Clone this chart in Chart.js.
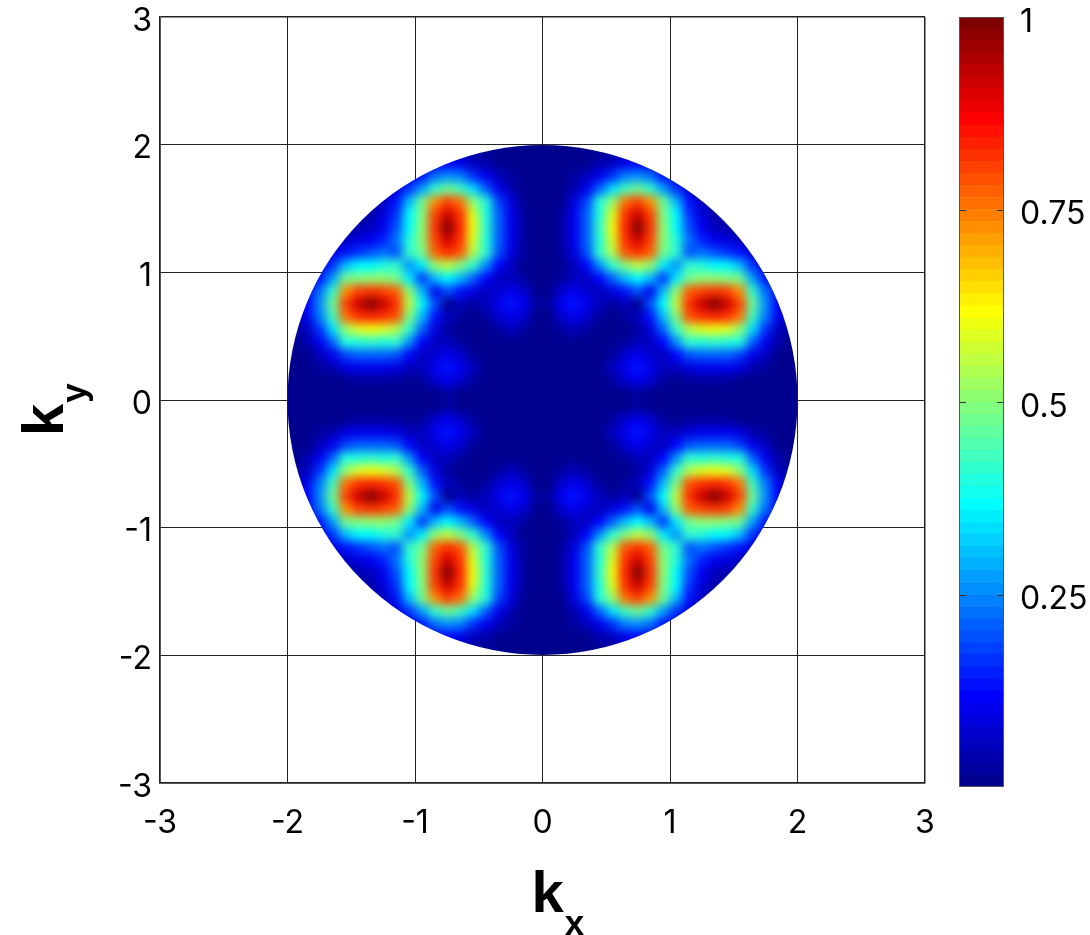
<!DOCTYPE html>
<html>
<head>
<meta charset="utf-8">
<script src="https://cdn.jsdelivr.net/npm/chart.js@4/dist/chart.umd.min.js"></script>
<style>
  html, body { margin: 0; padding: 0; background: #fff; }
  #wrap { position: relative; width: 1090px; height: 935px; }
  #wrap canvas { position: absolute; left: 0; top: 0; }
</style>
</head>
<body>
<div id="wrap">
  <canvas id="map" width="1090" height="935"></canvas>
  <canvas id="bar" width="1090" height="935"></canvas>
</div>
<script>
// intensity in the quadrant kx >= 0, ky >= 0 (the map is mirror symmetric)
// rows run from ky = 1.95 down to ky = 0.05, columns from kx = 0.05 to 1.95
const cellSize = 0.1;
const diskRadius = 2;
const quadrant = [
  [0.00,0.00,0.00,0.00,0.01,0.02,0.02,0.04,0.02,0.01,0.01,0.00,0.00,0.00,0.00,0.00,0.00,0.00,0.00,0.00],
  [0.00,0.00,0.01,0.01,0.04,0.06,0.10,0.11,0.09,0.05,0.02,0.01,0.00,0.00,0.00,0.00,0.00,0.00,0.00,0.00],
  [0.00,0.00,0.02,0.05,0.10,0.16,0.24,0.26,0.23,0.14,0.08,0.04,0.01,0.00,0.00,0.00,0.00,0.00,0.00,0.00],
  [0.00,0.00,0.04,0.10,0.21,0.34,0.43,0.48,0.42,0.28,0.16,0.08,0.04,0.01,0.00,0.00,0.00,0.00,0.00,0.00],
  [0.00,0.01,0.09,0.18,0.40,0.51,0.76,0.80,0.72,0.47,0.31,0.14,0.06,0.02,0.01,0.00,0.00,0.00,0.00,0.00],
  [0.00,0.02,0.10,0.21,0.40,0.59,0.82,0.92,0.80,0.49,0.36,0.16,0.09,0.04,0.02,0.00,0.00,0.00,0.00,0.00],
  [0.00,0.02,0.10,0.21,0.41,0.60,0.84,1.00,0.82,0.50,0.37,0.19,0.10,0.05,0.04,0.02,0.01,0.00,0.00,0.00],
  [0.00,0.02,0.10,0.21,0.40,0.59,0.82,0.92,0.80,0.51,0.40,0.22,0.15,0.10,0.09,0.06,0.04,0.01,0.00,0.00],
  [0.00,0.02,0.09,0.19,0.41,0.54,0.79,0.82,0.77,0.48,0.41,0.20,0.22,0.19,0.16,0.14,0.08,0.04,0.01,0.00],
  [0.00,0.01,0.05,0.11,0.25,0.41,0.49,0.55,0.50,0.35,0.25,0.41,0.40,0.37,0.36,0.31,0.16,0.08,0.02,0.01],
  [0.00,0.02,0.06,0.06,0.12,0.21,0.31,0.36,0.30,0.17,0.35,0.48,0.51,0.50,0.49,0.47,0.28,0.14,0.05,0.01],
  [0.01,0.07,0.10,0.07,0.05,0.09,0.14,0.19,0.10,0.30,0.50,0.77,0.80,0.82,0.80,0.72,0.42,0.23,0.09,0.02],
  [0.02,0.10,0.14,0.10,0.05,0.02,0.05,0.00,0.19,0.36,0.55,0.82,0.92,1.00,0.92,0.80,0.48,0.26,0.11,0.04],
  [0.01,0.07,0.10,0.07,0.02,0.00,0.02,0.05,0.14,0.31,0.49,0.79,0.82,0.84,0.82,0.76,0.43,0.24,0.10,0.02],
  [0.00,0.02,0.05,0.02,0.00,0.00,0.00,0.02,0.09,0.21,0.41,0.54,0.59,0.60,0.59,0.51,0.34,0.16,0.06,0.02],
  [0.00,0.00,0.00,0.00,0.00,0.00,0.02,0.05,0.05,0.12,0.25,0.41,0.40,0.41,0.40,0.40,0.21,0.10,0.04,0.01],
  [0.00,0.00,0.00,0.00,0.00,0.02,0.07,0.10,0.07,0.06,0.11,0.19,0.21,0.21,0.21,0.18,0.10,0.05,0.01,0.00],
  [0.00,0.00,0.00,0.00,0.00,0.05,0.10,0.14,0.10,0.06,0.05,0.09,0.10,0.10,0.10,0.09,0.04,0.02,0.01,0.00],
  [0.00,0.00,0.00,0.00,0.00,0.02,0.07,0.10,0.07,0.02,0.01,0.02,0.02,0.02,0.02,0.01,0.00,0.00,0.00,0.00],
  [0.00,0.00,0.00,0.00,0.00,0.00,0.01,0.02,0.01,0.00,0.00,0.00,0.00,0.00,0.00,0.00,0.00,0.00,0.00,0.00]
];
const axisTicks = [-3, -2, -1, 0, 1, 2, 3];
const barTicks = [0.25, 0.5, 0.75, 1];
const barTickLabels = ['0.25', '0.5', '0.75', '1'];
const xTitle = ['k', 'x'];
const yTitle = ['k', 'y'];
const levelCount = 64;

// MATLAB jet(64)
function jetLevel(m) {
  const u = p => (p < 1 || p > 47) ? 0 : p <= 16 ? p / 16 : p <= 31 ? 1 : (48 - p) / 16;
  const c = [u(m - 24), u(m - 8), u(m + 8)].map(v => Math.round(v * 255));
  return 'rgb(' + c.join(',') + ')';
}
const jet = [];
for (let m = 1; m <= levelCount; m++) jet.push(jetLevel(m));
function jetColor(v) {
  return jet[Math.max(0, Math.min(levelCount - 1, Math.floor(v * levelCount)))];
}

const cells = [];
quadrant.forEach((row, r) => {
  const ky = (quadrant.length - r - 0.5) * cellSize;
  row.forEach((v, c) => {
    const kx = (c + 0.5) * cellSize;
    [-1, 1].forEach(sx => [-1, 1].forEach(sy => cells.push({ x: sx * kx, y: sy * ky, v: v })));
  });
});

function cellRadius(chart) {
  const s = chart.scales.x;
  const px = Math.abs(s.getPixelForValue(cellSize) - s.getPixelForValue(0));
  return (px / 2 + 0.5) / Math.SQRT1_2;
}

// smooth the cells and keep them inside the disk
const diskBlur = {
  id: 'diskBlur',
  beforeDatasetsDraw(chart) {
    const c = document.createElement('canvas');
    c.width = chart.canvas.width;
    c.height = chart.canvas.height;
    c.getContext('2d').drawImage(chart.canvas, 0, 0);
    chart.$under = c;
  },
  afterDatasetsDraw(chart) {
    const ctx = chart.ctx, cv = chart.canvas;
    const sx = chart.scales.x, sy = chart.scales.y;
    const x0 = sx.getPixelForValue(-diskRadius), x1 = sx.getPixelForValue(diskRadius);
    const y0 = sy.getPixelForValue(diskRadius), y1 = sy.getPixelForValue(-diskRadius);
    const drawn = document.createElement('canvas');
    drawn.width = cv.width;
    drawn.height = cv.height;
    const dctx = drawn.getContext('2d');
    dctx.fillStyle = jet[0];
    dctx.fillRect(0, 0, drawn.width, drawn.height);
    dctx.save();
    dctx.beginPath();
    dctx.rect(x0, y0, x1 - x0, y1 - y0);
    dctx.clip();
    dctx.drawImage(cv, 0, 0);
    dctx.restore();
    const cx = sx.getPixelForValue(0), cy = sy.getPixelForValue(0);
    const r = x1 - cx;
    ctx.save();
    ctx.setTransform(1, 0, 0, 1, 0, 0);
    ctx.clearRect(0, 0, cv.width, cv.height);
    ctx.drawImage(chart.$under, 0, 0);
    ctx.beginPath();
    ctx.arc(cx, cy, r, 0, 2 * Math.PI);
    ctx.clip();
    ctx.filter = 'blur(5px)';
    ctx.drawImage(drawn, 0, 0);
    ctx.restore();
  }
};

function drawSubscripted(ctx, x, y, angle, parts) {
  ctx.save();
  ctx.translate(x, y);
  ctx.rotate(angle);
  ctx.fillStyle = '#000';
  ctx.textAlign = 'left';
  ctx.textBaseline = 'alphabetic';
  ctx.font = 'bold 58px "Liberation Sans"';
  ctx.fillText(parts[0], 0, 0);
  const w = ctx.measureText(parts[0]).width;
  ctx.font = 'bold 35px "Liberation Sans"';
  ctx.fillText(parts[1], w + 1, 23);
  ctx.restore();
}

const axisTitles = {
  id: 'axisTitles',
  afterDraw(chart) {
    const a = chart.chartArea;
    drawSubscripted(chart.ctx, (a.left + a.right) / 2 - 11, a.bottom + 129, 0, xTitle);
    drawSubscripted(chart.ctx, a.left - 97, (a.top + a.bottom) / 2 + 36, -Math.PI / 2, yTitle);
  }
};

const tickFont = { family: 'Inter', size: 32 };
const gridWidth = c => (c.tick && Math.abs(c.tick.value) === 3) ? 1.5 : 1;

new Chart(document.getElementById('map'), {
  type: 'scatter',
  data: {
    datasets: [{
      data: cells,
      pointStyle: 'rect',
      pointRadius: c => cellRadius(c.chart),
      pointHoverRadius: c => cellRadius(c.chart),
      pointBorderWidth: 0,
      pointBackgroundColor: c => c.raw ? jetColor(c.raw.v) : '#000'
    }]
  },
  options: {
    responsive: false,
    devicePixelRatio: 1,
    animation: false,
    events: [],
    layout: { padding: { left: 0, top: 17, right: 165, bottom: 0 } },
    plugins: { legend: { display: false }, tooltip: { enabled: false } },
    scales: {
      x: {
        type: 'linear', min: -3, max: 3,
        afterBuildTicks: s => { s.ticks = axisTicks.map(v => ({ value: v })); },
        afterFit: s => { s.height = 152; s.paddingLeft = 0; s.paddingRight = 0; },
        grid: { color: '#222', lineWidth: gridWidth, drawTicks: false },
        border: { color: '#222', width: 1.5 },
        ticks: { padding: 21, color: '#000', font: tickFont, maxRotation: 0, autoSkip: false }
      },
      y: {
        type: 'linear', min: -3, max: 3,
        afterBuildTicks: s => { s.ticks = axisTicks.map(v => ({ value: v })); },
        afterFit: s => { s.width = 160; s.paddingTop = 0; s.paddingBottom = 0; },
        grid: { color: '#222', lineWidth: gridWidth, drawTicks: false },
        border: { color: '#222', width: 1.5 },
        ticks: { padding: 8, labelOffset: 4, color: '#000', font: tickFont, autoSkip: false }
      }
    }
  },
  plugins: [diskBlur, axisTitles]
});

// colour bar
const barFrame = {
  id: 'barFrame',
  afterDatasetsDraw(chart) {
    const ctx = chart.ctx, a = chart.chartArea, s = chart.scales.y;
    ctx.save();
    ctx.strokeStyle = '#333';
    ctx.lineWidth = 1;
    barTicks.forEach(v => {
      const y = Math.round(s.getPixelForValue(v)) + 0.5;
      ctx.beginPath();
      ctx.moveTo(a.left, y); ctx.lineTo(a.left + 7, y);
      ctx.moveTo(a.right - 7, y); ctx.lineTo(a.right, y);
      ctx.stroke();
    });
    ctx.strokeStyle = '#555';
    ctx.strokeRect(Math.round(a.left) + 0.5, Math.round(a.top) + 0.5,
      Math.round(a.right - a.left) - 1, Math.round(a.bottom - a.top) - 1);
    ctx.restore();
  }
};

new Chart(document.getElementById('bar'), {
  type: 'bar',
  data: {
    labels: [''],
    datasets: jet.map(c => ({
      data: [1 / levelCount],
      backgroundColor: c,
      borderWidth: 0,
      barPercentage: 1,
      categoryPercentage: 1
    }))
  },
  options: {
    responsive: false,
    devicePixelRatio: 1,
    animation: false,
    events: [],
    layout: { padding: { left: 959, top: 17, right: 0, bottom: 148 } },
    plugins: { legend: { display: false }, tooltip: { enabled: false } },
    scales: {
      x: { display: false, stacked: true },
      y: {
        stacked: true, position: 'right', min: 0, max: 1,
        afterBuildTicks: s => { s.ticks = barTicks.map(v => ({ value: v })); },
        afterFit: s => { s.width = 86; s.paddingTop = 0; s.paddingBottom = 0; },
        grid: { display: false },
        border: { display: false },
        ticks: {
          padding: 8, labelOffset: 5, color: '#000', font: tickFont,
          callback: v => barTickLabels[barTicks.indexOf(v)]
        }
      }
    }
  },
  plugins: [barFrame]
});
</script>
</body>
</html>
